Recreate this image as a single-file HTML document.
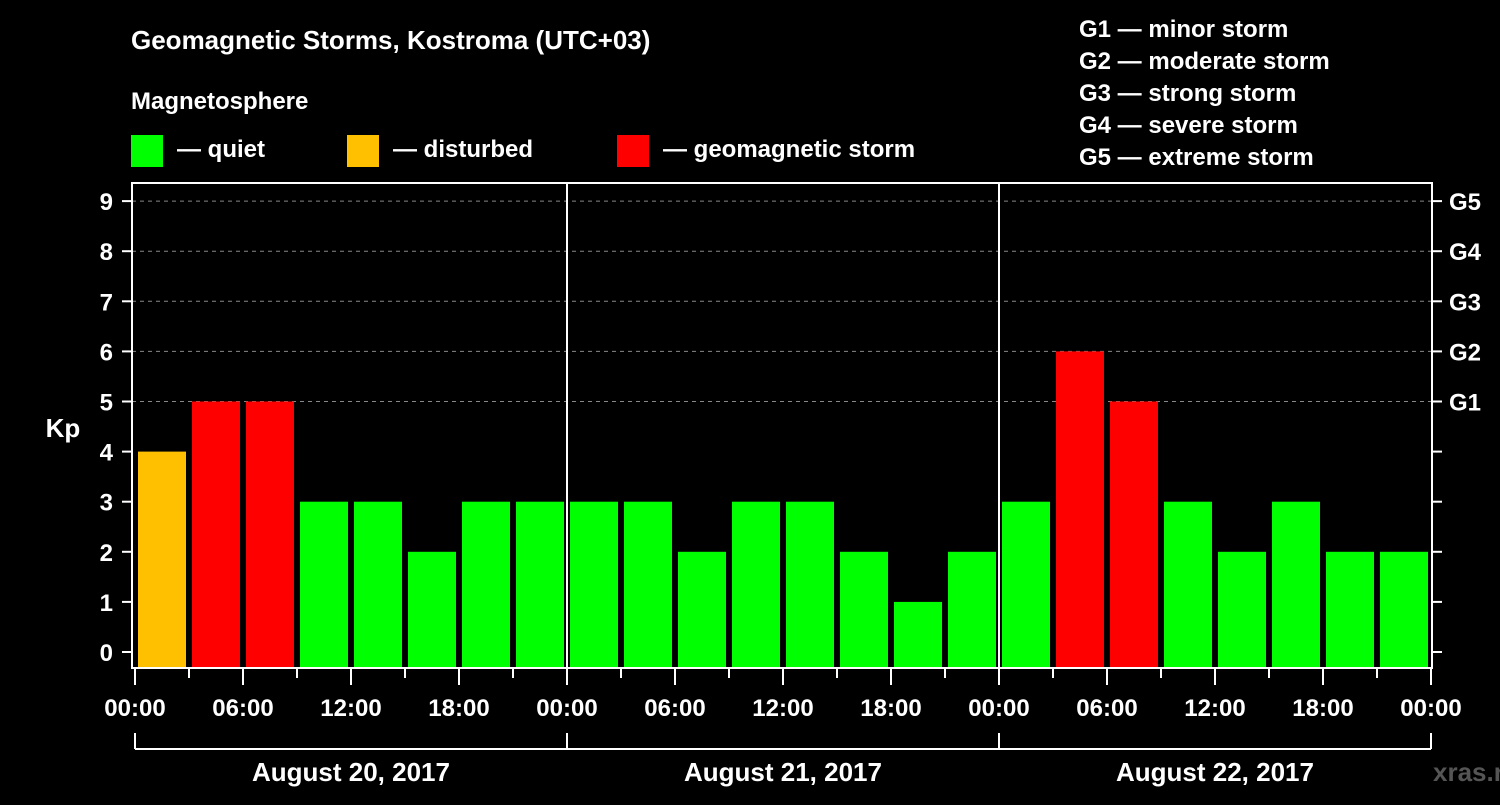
<!DOCTYPE html>
<html><head><meta charset="utf-8"><style>
body{margin:0;background:#000;width:1500px;height:800px;overflow:hidden}
svg text{font-family:"Liberation Sans",Arial,sans-serif;font-weight:bold;fill:#fff}
</style></head><body>
<svg id="c" width="1500" height="800" xmlns="http://www.w3.org/2000/svg">
<text x="131" y="49" font-size="26">Geomagnetic Storms, Kostroma (UTC+03)</text>
<text x="131" y="109" font-size="24">Magnetosphere</text>
<rect x="131" y="135" width="32" height="32" fill="#00ff00"/>
<text x="177" y="157" font-size="24">— quiet</text>
<rect x="347" y="135" width="32" height="32" fill="#ffc000"/>
<text x="393" y="157" font-size="24">— disturbed</text>
<rect x="617" y="135" width="32" height="32" fill="#ff0000"/>
<text x="663" y="157" font-size="24">— geomagnetic storm</text>
<g font-size="24">
<text x="1079" y="37">G1 — minor storm</text>
<text x="1079" y="69">G2 — moderate storm</text>
<text x="1079" y="101">G3 — strong storm</text>
<text x="1079" y="133">G4 — severe storm</text>
<text x="1079" y="165">G5 — extreme storm</text>
</g>
<text x="63" y="437" font-size="26" text-anchor="middle">Kp</text>
<text x="1433" y="781" font-size="26" fill="#555" style="fill:#555">xras.ru</text>
<g id="plot"></g>
</svg>
<script>
const kpValues=[4,5,5,3,3,2,3,3, 3,3,2,3,3,2,1,2, 3,6,5,3,2,3,2,2];
const dayLabels=["August 20, 2017","August 21, 2017","August 22, 2017"];
const hourLabels=["00:00","06:00","12:00","18:00"];
const gLabels=["G1","G2","G3","G4","G5"];
const NS="http://www.w3.org/2000/svg";
const g=document.getElementById('plot');
const X0=135,PX_H=18,TOP=183,BOT=668;
const xs=h=>X0+h*PX_H;
const ys=v=>652-v*50.1;
function el(t,a){const e=document.createElementNS(NS,t);for(const k in a)e.setAttribute(k,a[k]);g.appendChild(e);return e;}
// grid
for(let v=5;v<=9;v++){const l=el('line',{x1:132,x2:1432,y1:ys(v),y2:ys(v),stroke:'#888','stroke-dasharray':'4,4','stroke-width':1});

}
// bars
kpValues.forEach((v,i)=>{const c=v>=5?'#ff0000':(v>=4?'#ffc000':'#00ff00');
const r=el('rect',{x:xs(i*3)+3,y:ys(v),width:48,height:BOT-ys(v),fill:c});

});
// frame
const f=el('rect',{x:132,y:TOP,width:1300,height:BOT-TOP,fill:'none',stroke:'#fff','stroke-width':2});


for(let d=1;d<3;d++){const l=el('line',{x1:xs(d*24),x2:xs(d*24),y1:TOP,y2:BOT,stroke:'#fff','stroke-width':2});

}
// y ticks
for(let v=0;v<=9;v++){
el('line',{x1:122,x2:132,y1:ys(v),y2:ys(v),stroke:'#fff','stroke-width':2});
el('line',{x1:1432,x2:1442,y1:ys(v),y2:ys(v),stroke:'#fff','stroke-width':2});
const t=el('text',{x:113,y:ys(v)+9,'font-size':24,'text-anchor':'end'});t.textContent=v;

}
gLabels.forEach((s,i)=>{const t=el('text',{x:1449,y:ys(5+i)+9,'font-size':24});t.textContent=s;

});
// x ticks
for(let h=0;h<=72;h+=3){const big=h%6===0;el('line',{x1:xs(h),x2:xs(h),y1:BOT,y2:BOT+(big?17:10),stroke:'#fff','stroke-width':2});
if(big){const t=el('text',{x:xs(h),y:716,'font-size':24,'text-anchor':'middle'});t.textContent=hourLabels[(h/6)%4];

}}
// day brackets
el('line',{x1:xs(0),x2:xs(72),y1:749,y2:749,stroke:'#fff','stroke-width':2});
for(let d=0;d<=3;d++)el('line',{x1:xs(d*24),x2:xs(d*24),y1:733,y2:749,stroke:'#fff','stroke-width':2});
dayLabels.forEach((s,d)=>{const t=el('text',{x:xs(d*24+12),y:781,'font-size':26,'text-anchor':'middle'});t.textContent=s;

});
</script>
</body></html>
